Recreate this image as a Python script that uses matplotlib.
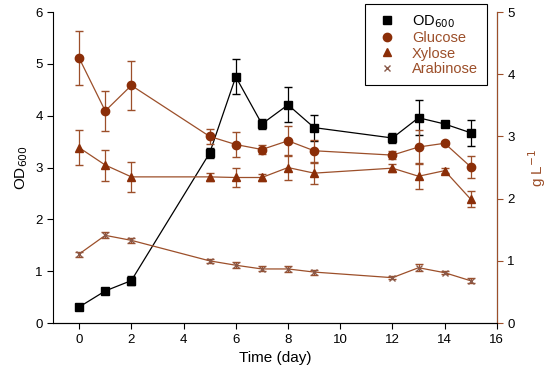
import numpy as np
import matplotlib as mpl
mpl.use('Agg')
import matplotlib.pyplot as plt
from matplotlib.lines import Line2D

plt.rcParams['font.family'] = ['Liberation Sans', 'DejaVu Sans']
plt.rcParams['font.size'] = 9.5

# data
days = [0, 1, 2, 5, 6, 7, 8, 9, 12, 13, 14, 15]
od600 = [0.31, 0.62, 0.82, 3.28, 4.75, 3.84, 4.21, 3.77, 3.57, 3.96, 3.84, 3.67]
od600_err = [0.04, 0.05, 0.08, 0.1, 0.34, 0.1, 0.34, 0.25, 0.09, 0.34, 0.06, 0.25]
glucose = [4.26, 3.41, 3.82, 3.0, 2.87, 2.79, 2.93, 2.77, 2.70, 2.83, 2.89, 2.51]
glucose_err = [0.43, 0.32, 0.39, 0.12, 0.2, 0.08, 0.24, 0.18, 0.07, 0.27, 0.03, 0.18]
xylose = [2.82, 2.54, 2.35, 2.35, 2.34, 2.34, 2.50, 2.41, 2.49, 2.36, 2.45, 1.99]
xylose_err = [0.28, 0.25, 0.24, 0.07, 0.16, 0.06, 0.2, 0.17, 0.06, 0.21, 0.04, 0.13]
arabinose = [1.11, 1.41, 1.33, 1.0, 0.93, 0.87, 0.87, 0.82, 0.73, 0.89, 0.81, 0.68]
arabinose_err = [0.04, 0.05, 0.04, 0.03, 0.05, 0.04, 0.05, 0.04, 0.02, 0.06, 0.02, 0.04]

brown = '#9c4f2a'
dark = '#8b2e08'
xcol = '#8a5a4a'

fig = plt.figure(figsize=(5.5, 3.81), dpi=100)
ax = fig.add_axes([0.0964, 0.152, 0.807, 0.8165])
ax2 = ax.twinx()

ax.errorbar(days, od600, yerr=od600_err, color='black', marker='s', ms=5.5,
            lw=0.9, capsize=3, elinewidth=0.9)
ax2.errorbar(days, glucose, yerr=glucose_err, color=brown, marker='o', ms=6,
             mfc=dark, mec=dark, lw=0.9, capsize=3, elinewidth=0.9)
ax2.errorbar(days, xylose, yerr=xylose_err, color=brown, marker='^', ms=6,
             mfc=dark, mec=dark, lw=0.9, capsize=3, elinewidth=0.9)
ax2.errorbar(days, arabinose, yerr=arabinose_err, color=brown, marker='x', ms=5,
             mec=xcol, lw=0.9, capsize=3, elinewidth=0.9)

ax.set_xlim(-1, 16)
ax.set_ylim(0, 6)
ax2.set_ylim(0, 5)
ax.set_xticks(range(0, 17, 2))
ax.set_yticks(range(0, 7))
ax2.set_yticks(range(0, 6))

ax.set_xlabel('Time (day)', fontsize=11)
ax.set_ylabel('OD$_{600}$', fontsize=11)
ax2.set_ylabel('g L$^{-1}$', fontsize=11, color=brown, labelpad=8)

for a in (ax, ax2):
    a.spines['top'].set_visible(False)
ax2.spines['right'].set_color(brown)
ax2.spines['left'].set_visible(False)
ax2.tick_params(axis='y', colors='black', color=brown, direction='out', length=4)
ax.tick_params(direction='out', length=4)

handles = [Line2D([], [], ls='none', marker='s', color='black', ms=5.5),
           Line2D([], [], ls='none', marker='o', color=dark, ms=6),
           Line2D([], [], ls='none', marker='^', color=dark, ms=6),
           Line2D([], [], ls='none', marker='x', color=xcol, ms=5)]
leg = ax2.legend(handles, ['OD$_{600}$', 'Glucose', 'Xylose', 'Arabinose'],
                 loc='upper right', bbox_to_anchor=(0.977, 1.025), fancybox=False,
                 edgecolor='black', framealpha=1, fontsize=10.5, handlelength=1.8,
                 borderpad=0.6, labelspacing=0.1, borderaxespad=0)
leg.get_frame().set_linewidth(0.8)
for t, c in zip(leg.get_texts(), ['black', brown, brown, brown]):
    t.set_color(c)

fig.savefig('out.png', dpi=100)
